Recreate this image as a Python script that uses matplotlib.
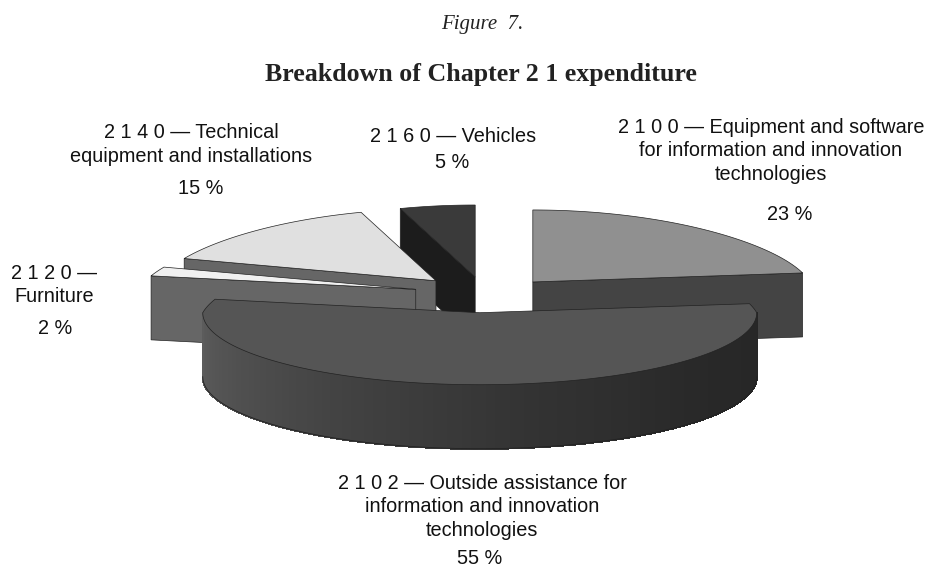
import numpy as np
import matplotlib
matplotlib.use("Agg")
import matplotlib.pyplot as plt
from matplotlib.patches import Polygon

codes = ["2100", "2102", "2120", "2140", "2160"]
shares = [23, 55, 2, 15, 5]
top_colors = ["#909090", "#555555", "#f0f0f0", "#e0e0e0", "#3a3a3a"]
cut_colors = ["#444444", "#444444", "#666666", "#666666", "#1c1c1c"]
# back slices first, big front slice last
draw_order = [4, 3, 0, 2, 1]

labels = [
    "2 1 0 0 — Equipment and software\nfor information and innovation\ntechnologies",
    "2 1 0 2 — Outside assistance for\ninformation and innovation\ntechnologies",
    "2 1 2 0 —\nFurniture",
    "2 1 4 0 — Technical\nequipment and installations",
    "2 1 6 0 — Vehicles",
]
pct_labels = ["23 %", "55 %", "2 %", "15 %", "5 %"]
label_pos = [(771, 128), (482, 484), (54, 274), (191, 133), (453, 137)]
pct_pos = [(790, 214), (480, 559), (55, 328), (201, 189), (452, 163)]

# pie geometry in pixels
cx, cy = 484, 294
rx, ry = 277, 72
depth = 64
explode = 0.26
persp = 0.15
# small per slice shift, the exploded slices do not sit exactly on the ellipse
nudge_x = [6, -2, -1, -2, 1]
nudge_y = [2, 0, 0, 0, 1.5]


def rim(theta):
    # theta in degrees, clockwise from the back of the pie
    t = np.radians(theta)
    return rx * np.sin(t) / (1 + persp * np.maximum(np.cos(t), 0)), -ry * np.cos(t)


def side_gray(theta):
    # shading of the round side, left is lighter
    return np.interp(theta, [90, 130, 170, 210, 250, 270], [0.15, 0.16, 0.2, 0.26, 0.33, 0.36])


fig = plt.figure(figsize=(9.28, 5.7), dpi=100, facecolor="white")
ax = fig.add_axes([0, 0, 1, 1])
ax.set_xlim(0, 928)
ax.set_ylim(570, 0)
ax.axis("off")

starts = np.cumsum([0] + shares[:-1]) * 3.6
ends = np.cumsum(shares) * 3.6

for z, i in enumerate(draw_order):
    a0, a1 = starts[i], ends[i]
    mid = (a0 + a1) / 2
    ex, ey = rim(mid)
    ax0 = cx + explode * ex + nudge_x[i]
    ay0 = cy + explode * ey + nudge_y[i]
    zb = z * 10

    angles = np.linspace(a0, a1, 200)
    px, py = rim(angles)
    px = px + ax0
    py = py + ay0

    # round side
    if a1 > 90 and a0 < 270:
        lo, hi = max(a0, 90), min(a1, 270)
        steps = np.linspace(lo, hi, 181)
        for s0, s1 in zip(steps[:-1], steps[1:]):
            x0, y0 = rim(s0)
            x1, y1 = rim(s1)
            quad = [(ax0 + x0, ay0 + y0), (ax0 + x1, ay0 + y1),
                    (ax0 + x1, ay0 + y1 + depth), (ax0 + x0, ay0 + y0 + depth)]
            g = str(side_gray((s0 + s1) / 2))
            ax.add_patch(Polygon(quad, closed=True, fc=g, ec=g, lw=1, antialiased=False, zorder=zb + 1))
        a = np.linspace(lo, hi, 200)
        ox, oy = rim(a)
        ax.plot(ax0 + ox, ay0 + oy + depth, color="#222222", lw=0.6, zorder=zb + 2)

    # flat cut faces that turn towards the viewer
    if a1 < 90:
        cut_angle = a1
    elif a0 > 270:
        cut_angle = a0
    else:
        cut_angle = None
    if cut_angle is not None:
        ox, oy = rim(cut_angle)
        cut = [(ax0, ay0), (ax0 + ox, ay0 + oy), (ax0 + ox, ay0 + oy + depth), (ax0, ay0 + depth)]
        ax.add_patch(Polygon(cut, closed=True, fc=cut_colors[i], ec="#222222", lw=0.5, zorder=zb + 1))

    # top face
    face = np.column_stack([np.r_[ax0, px], np.r_[ay0, py]])
    ax.add_patch(Polygon(face, closed=True, fc=top_colors[i], ec="#222222", lw=0.5, zorder=zb + 3))

for text, (x, y) in zip(labels, label_pos):
    ax.text(x, y - 10, text, ha="center", va="top", fontsize=14.3, family="Liberation Sans",
            color="#111111", linespacing=1.3, zorder=100)
for text, (x, y) in zip(pct_labels, pct_pos):
    ax.text(x, y, text, ha="center", va="center", fontsize=14.3, family="Liberation Sans",
            color="#111111", zorder=100)

ax.text(482, 24, "Figure  7.", ha="center", va="center", fontsize=15, style="italic",
        family="Liberation Serif", color="#222222")
ax.text(481, 75, "Breakdown of Chapter 2 1 expenditure", ha="center", va="center", fontsize=18.6,
        weight="bold", family="Liberation Serif", color="#222222")

fig.savefig("out.png", dpi=100, facecolor="white")
